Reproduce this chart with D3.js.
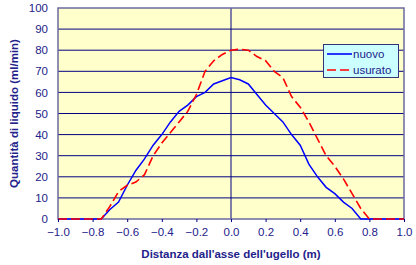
<!DOCTYPE html>
<html><head><meta charset="utf-8">
<script src="https://cdn.jsdelivr.net/npm/d3@7/dist/d3.min.js"></script>
<style>body{margin:0;background:#fff}svg{display:block}text{font-family:Arial,"Liberation Sans",sans-serif}</style>
</head><body><svg id="c" width="416" height="265"></svg>
<script>
const xs = [-1.0,-0.95,-0.9,-0.85,-0.8,-0.75,-0.7,-0.65,-0.6,-0.55,-0.5,-0.45,-0.4,-0.35,-0.3,-0.25,-0.2,-0.15,-0.1,-0.05,0,0.05,0.1,0.15,0.2,0.25,0.3,0.35,0.4,0.45,0.5,0.55,0.6,0.65,0.7,0.75,0.8,0.85,0.9,0.95,1.0];
const nuovo = [0,0,0,0,0,0,4.5,8,16,23,28.5,35,40,46,51,54,58,60,64,65.5,67,66,64,59,54,50,46,40,35,26,20,15,12,8,5,0,0,0,0,0,0];
const usurato = [0,0,0,0,0,0,6,13,16,17.5,21,30,36,41,46,51,59,70,75,78,80,80.5,80,77,75,70,67,58,53,46,38,30,25,19,12,5,0,0,0,0,0];
const xTicks = [-1.0,-0.8,-0.6,-0.4,-0.2,0.0,0.2,0.4,0.6,0.8,1.0];
const yTicks = [0,10,20,30,40,50,60,70,80,90,100];
const seriesNames = ["nuovo","usurato"];

const svg = d3.select("#c");
const L=58,R=404,T=8,B=219;
const x = d3.scaleLinear().domain([-1,1]).range([L,R]);
const y = d3.scaleLinear().domain([0,100]).range([B,T]);
const navy="#000080", txt="#22228a";

svg.append("rect").attr("x",L).attr("y",T).attr("width",R-L).attr("height",B-T).attr("fill","#ffffcc");
svg.append("g").selectAll("line").data(yTicks.slice(1,-1)).join("line")
  .attr("x1",L).attr("x2",R).attr("y1",d=>y(d)).attr("y2",d=>y(d)).attr("stroke",navy).attr("stroke-width",1);
svg.append("line").attr("x1",x(0)).attr("x2",x(0)).attr("y1",T).attr("y2",B).attr("stroke",navy).attr("stroke-width",1);

svg.append("rect").attr("x",L).attr("y",T).attr("width",R-L).attr("height",B-T).attr("fill","none").attr("stroke","#6a6aa0").attr("stroke-width",1.5);

const line = d3.line().x((d,i)=>x(xs[i])).y(d=>y(d));
svg.append("path").datum(nuovo).attr("d",line).attr("fill","none").attr("stroke","#0000ff").attr("stroke-width",1.5);
svg.append("path").datum(usurato).attr("d",line).attr("fill","none").attr("stroke","#ff0000").attr("stroke-width",1.6).attr("stroke-dasharray","9,4");

const xa = svg.append("g").attr("transform",`translate(0,${B})`)
  .call(d3.axisBottom(x).tickValues(xTicks).tickFormat(d3.format(".1f")).tickSize(3).tickPadding(6));
xa.select(".domain").remove();
xa.selectAll("line").attr("stroke",navy);
xa.selectAll("text").attr("fill",txt).style("font-size","11.5px");
const ya = svg.append("g").attr("transform",`translate(${L},0)`)
  .call(d3.axisLeft(y).tickValues(yTicks).tickSize(0).tickPadding(10));
ya.select(".domain").remove();
ya.selectAll("text").attr("fill",txt).style("font-size","11.5px");

svg.append("text").attr("x",(L+R)/2).attr("y",258).attr("text-anchor","middle").attr("fill",txt)
  .style("font-size","11.5px").style("font-weight","bold").text("Distanza dall'asse dell'ugello (m)");
svg.append("text").attr("transform",`translate(18,${(T+B)/2}) rotate(-90)`).attr("text-anchor","middle").attr("fill",txt)
  .style("font-size","11.5px").style("font-weight","bold").text("Quantità di liquido (ml/min)");

const lg = svg.append("g");
lg.append("rect").attr("x",323.5).attr("y",44.5).attr("width",75).attr("height",33).attr("fill","#ccffff").attr("stroke","#33337a").attr("stroke-width",1);
const cols=["#0000ff","#ff0000"], dash=[null,"9,4"];
seriesNames.forEach((n,i)=>{
  const yy=54+i*16;
  lg.append("line").attr("x1",327).attr("x2",352).attr("y1",yy).attr("y2",yy).attr("stroke",cols[i]).attr("stroke-width",1.6).attr("stroke-dasharray",dash[i]);
  lg.append("text").attr("x",353).attr("y",yy+4).attr("fill",txt).style("font-size","11.5px").text(n);
});
</script></body></html>
